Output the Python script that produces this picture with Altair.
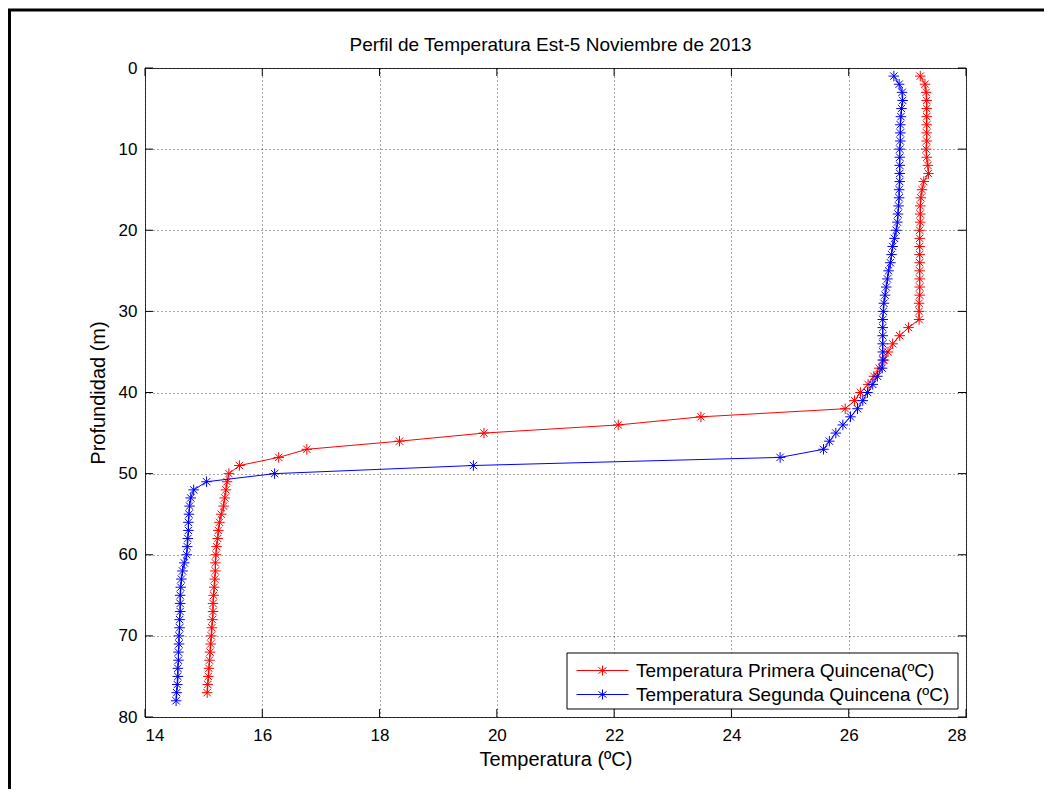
import altair as alt
import pandas as pd

# ---------------- data ----------------
depth_red = list(range(1, 78))
temp_red = [27.22, 27.30, 27.32, 27.33, 27.33, 27.33, 27.33, 27.33, 27.33, 27.32,
            27.33, 27.35, 27.36, 27.28, 27.25, 27.23, 27.22, 27.22, 27.22, 27.21,
            27.21, 27.21, 27.21, 27.21, 27.21, 27.21, 27.21, 27.21, 27.20, 27.20,
            27.20, 27.02, 26.87, 26.75, 26.67, 26.60, 26.52, 26.43, 26.33, 26.20,
            26.10, 25.94, 23.48, 22.07, 19.78, 18.34, 16.76, 16.28, 15.61, 15.43,
            15.40, 15.38, 15.36, 15.34, 15.30, 15.27, 15.25, 15.24, 15.22, 15.21,
            15.20, 15.20, 15.19, 15.18, 15.17, 15.16, 15.16, 15.15, 15.14, 15.13,
            15.12, 15.11, 15.10, 15.09, 15.08, 15.07, 15.06]

depth_blue = list(range(1, 79))
temp_blue = [26.77, 26.86, 26.91, 26.92, 26.90, 26.89, 26.88, 26.88, 26.88, 26.87,
             26.87, 26.87, 26.87, 26.87, 26.86, 26.86, 26.85, 26.84, 26.83, 26.81,
             26.78, 26.75, 26.73, 26.71, 26.68, 26.66, 26.64, 26.62, 26.60, 26.59,
             26.58, 26.58, 26.58, 26.58, 26.58, 26.58, 26.57, 26.49, 26.41, 26.32,
             26.24, 26.15, 26.03, 25.90, 25.78, 25.67, 25.57, 24.83, 19.60, 16.21,
             15.05, 14.83, 14.78, 14.76, 14.75, 14.74, 14.74, 14.73, 14.72, 14.71,
             14.67, 14.64, 14.62, 14.61, 14.60, 14.60, 14.60, 14.59, 14.59, 14.58,
             14.58, 14.57, 14.57, 14.56, 14.56, 14.55, 14.54, 14.53]

series_names = ["Temperatura Primera Quincena(ºC)", "Temperatura Segunda Quincena (ºC)"]
series_colors = ["#ff0000", "#0000ff"]
x_ticks = [14, 16, 18, 20, 22, 24, 26, 28]
y_ticks = [0, 10, 20, 30, 40, 50, 60, 70, 80]
title_text = "Perfil de Temperatura Est-5 Noviembre de 2013"
x_title = "Temperatura (ºC)"
y_title = "Profundidad (m)"

# ---------------- tables ----------------
df_red = pd.DataFrame({"temp": temp_red, "depth": depth_red, "serie": series_names[0]})
df_blue = pd.DataFrame({"temp": temp_blue, "depth": depth_blue, "serie": series_names[1]})
df_xt = pd.DataFrame({"v": x_ticks})
df_yt = pd.DataFrame({"v": y_ticks})

W, H = 821, 649
FONT = "Liberation Sans"
ASTER = "M0,-1V1M-1,0H1M-0.7,-0.7L0.7,0.7M-0.7,0.7L0.7,-0.7"
# legend symbol: line of +-26px with a small asterisk (symbolSize 100 -> 5px per unit)
LEG_SYM = "M-5.2,0H5.2M0,-1V1M-0.8,-0.6L0.8,0.6M-0.8,0.6L0.8,-0.6"

xscale = alt.Scale(domain=[14, 28], nice=False, zero=False)
yscale = alt.Scale(domain=[0, 80], reverse=True, nice=False, zero=False)
xaxis = alt.Axis(values=x_ticks, title=x_title, grid=True, ticks=False, tickSize=0,
                 domain=False, labelPadding=10, titlePadding=6, format="d")
yaxis = alt.Axis(values=y_ticks, title=y_title, grid=True, ticks=False, tickSize=0,
                 domain=False, labelPadding=8, titlePadding=10, format="d")
cscale = alt.Scale(domain=series_names, range=series_colors)

X = alt.X("temp:Q", scale=xscale, axis=xaxis)
Y = alt.Y("depth:Q", scale=yscale, axis=yaxis)

legend = alt.Legend(title=None, orient="none", legendX=448, legendY=593,
                    symbolType=LEG_SYM, symbolSize=100, symbolStrokeWidth=1,
                    symbolFillColor="transparent", labelFontSize=19, labelFont=FONT,
                    labelColor="#000", labelOffset=24, rowPadding=4, padding=0,
                    labelLimit=400)


def series_layers(df, color):
    line = alt.Chart(df).mark_line(strokeWidth=1, color=color).encode(
        x=X, y=Y, order=alt.Order("depth:Q"),
        color=alt.Color("serie:N", scale=cscale, legend=legend),
    )
    pts = alt.Chart(df).mark_point(shape=ASTER, size=110, filled=False,
                                   strokeWidth=1, opacity=1).encode(
        x=X, y=Y, color=alt.value(color)
    )
    return line + pts


red = series_layers(df_red, series_colors[0])
blue = series_layers(df_blue, series_colors[1])

# inward tick marks (MATLAB style) on all four sides
xt_axis = alt.X("v:Q", scale=xscale, axis=xaxis)
yt_axis = alt.Y("v:Q", scale=yscale, axis=yaxis)
tick_b = alt.Chart(df_xt).mark_rule(color="#000", strokeWidth=1).encode(
    x=xt_axis, y=alt.value(H), y2=alt.value(H - 8))
tick_t = alt.Chart(df_xt).mark_rule(color="#000", strokeWidth=1).encode(
    x=xt_axis, y=alt.value(0), y2=alt.value(8))
tick_l = alt.Chart(df_yt).mark_rule(color="#000", strokeWidth=1).encode(
    y=yt_axis, x=alt.value(0), x2=alt.value(8))
tick_r = alt.Chart(df_yt).mark_rule(color="#000", strokeWidth=1).encode(
    y=yt_axis, x=alt.value(W), x2=alt.value(W - 8))

# legend box
leg_box = alt.Chart(df_xt.head(1)).mark_rect(fill="#fff", stroke="#000", strokeWidth=1).encode(
    x=alt.value(422), x2=alt.value(813), y=alt.value(585), y2=alt.value(641))

# figure frame (top and left edges visible in reference)
frame_top = alt.Chart(df_xt.head(1)).mark_rule(color="#000", strokeWidth=3).encode(
    x=alt.value(-137), x2=alt.value(W + 80), y=alt.value(-58), y2=alt.value(-58))
frame_left = alt.Chart(df_xt.head(1)).mark_rule(color="#000", strokeWidth=3).encode(
    x=alt.value(-135.5), x2=alt.value(-135.5), y=alt.value(-59), y2=alt.value(H + 74))

chart = alt.layer(
    tick_b, tick_t, tick_l, tick_r, red, blue, leg_box, frame_top, frame_left
).properties(
    width=W, height=H,
    title=alt.Title(title_text, fontSize=19, font=FONT, fontWeight="normal",
                    color="#000", offset=0, dy=47, dx=-5, anchor="middle", frame="group"),
    autosize=alt.AutoSizeParams(type="none"),
    padding={"left": 137, "top": 60, "right": 78, "bottom": 72},
    background="#ffffff",
).configure_view(
    stroke="#333", strokeWidth=1
).configure_axis(
    gridColor="#000", gridDash=[1, 3], gridOpacity=0.7, gridWidth=1,
    labelFontSize=17, labelFont=FONT, labelColor="#000",
    titleFontSize=20, titleFont=FONT, titleFontWeight="normal", titleColor="#000",
)

chart.save("out.html", embed_options={"renderer": "svg", "actions": False})
